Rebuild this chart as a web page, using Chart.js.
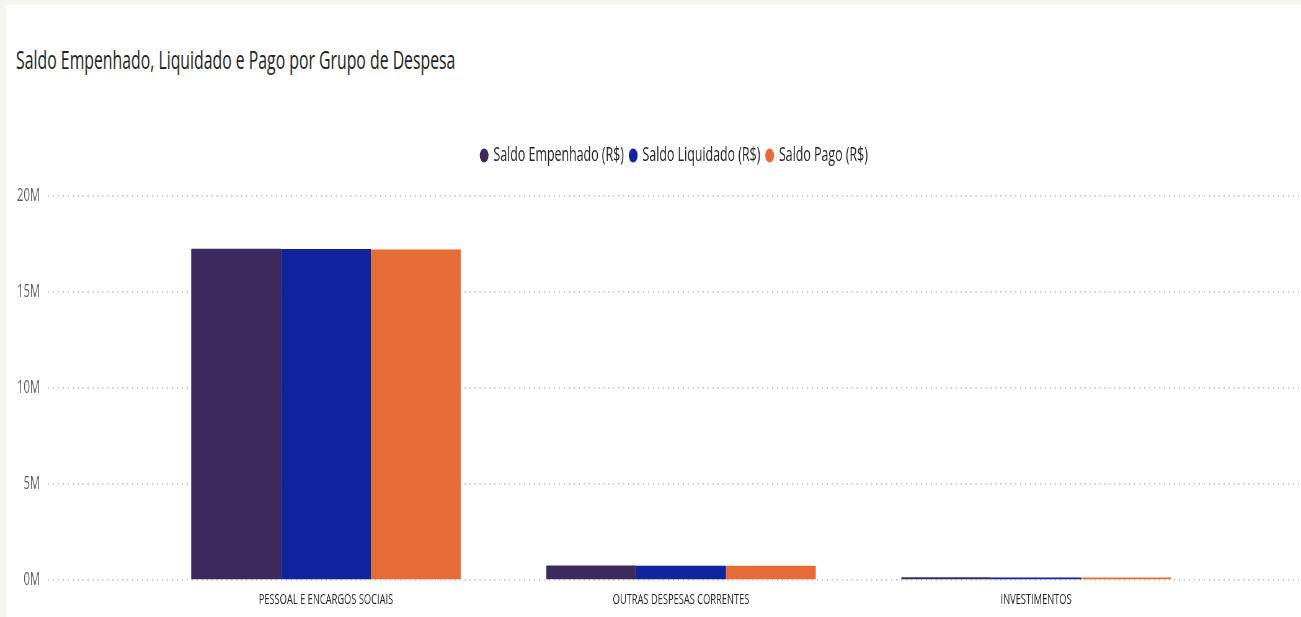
<!DOCTYPE html>
<html>
<head>
<meta charset="utf-8">
<script src="https://cdn.jsdelivr.net/npm/chart.js@4.4.1/dist/chart.umd.min.js"></script>
<style>
  html, body { margin: 0; padding: 0; background: #f3f5ee; overflow: hidden; }
  /* the reference is a horizontally squeezed screenshot, so draw wide and squeeze */
  #stage { position: absolute; left: 0; top: 0; width: 2098px; height: 617px; transform: scaleX(0.6201); transform-origin: 0 0; }
  #panel { position: absolute; left: 10px; top: 5px; right: 0; bottom: 0; background: #ffffff; }
  #title { position: absolute; left: 26px; top: 41.7px; font-family: 'Open Sans', sans-serif; font-size: 25.5px; color: #252423; white-space: nowrap; }
  #myChart { position: absolute; left: 0; top: 0; }
</style>
</head>
<body>
<div id="stage">
  <div id="panel"></div>
  <div id="title">Saldo Empenhado, Liquidado e Pago por Grupo de Despesa</div>
  <canvas id="myChart" width="2098" height="617" style="width:2098px;height:617px"></canvas>
</div>
<script>
const categories = ['PESSOAL E ENCARGOS SOCIAIS', 'OUTRAS DESPESAS CORRENTES', 'INVESTIMENTOS'];
const seriesNames = ['Saldo Empenhado (R$)', 'Saldo Liquidado (R$)', 'Saldo Pago (R$)'];
const empenhado = [17250000, 750000, 140000];
const liquidado = [17240000, 745000, 130000];
const pago = [17220000, 740000, 125000];
const seriesColors = ['#3c2a5e', '#12239e', '#e66c37'];
const yMax = 20000000;
const yStep = 5000000;

let ctx = document.getElementById('myChart').getContext('2d');
Chart.defaults.font.family = "'Open Sans', sans-serif";

const toPoints = (arr) => arr.map((v, i) => ({ x: i, y: v }));

let myChart = new Chart(ctx, {
    type: 'bar',
    data: {
        datasets: [
            { label: seriesNames[0], data: toPoints(empenhado), backgroundColor: seriesColors[0] },
            { label: seriesNames[1], data: toPoints(liquidado), backgroundColor: seriesColors[1] },
            { label: seriesNames[2], data: toPoints(pago), backgroundColor: seriesColors[2] }
        ]
    },
    options: {
        responsive: false,
        animation: false,
        devicePixelRatio: 1,
        categoryPercentage: 0.759,
        barPercentage: 1.0,
        layout: { padding: { top: 135.5, left: 14.7, right: 0, bottom: -3 } },
        plugins: {
            tooltip: { enabled: false },
            legend: {
                position: 'top',
                align: 'center',
                fullSize: false,
                labels: {
                    usePointStyle: true,
                    pointStyle: 'circle',
                    boxWidth: 10,
                    boxHeight: 10,
                    padding: 10,
                    color: '#252423',
                    font: { size: 20 }
                }
            },
            // spacer between legend and plot
            subtitle: {
                display: true,
                text: ' ',
                position: 'top',
                fullSize: false,
                weight: 500,
                font: { size: 1 },
                padding: { top: 19.3, bottom: 0 }
            }
        },
        scales: {
            x: {
                type: 'linear',
                offset: false,
                min: -0.783,
                max: 2.746,
                grid: { display: false, drawTicks: false },
                border: { display: false },
                ticks: {
                    stepSize: 1,
                    includeBounds: false,
                    autoSkip: false,
                    maxRotation: 0,
                    padding: 11,
                    color: '#252423',
                    font: { size: 15 },
                    callback: (v) => categories[v] !== undefined ? categories[v] : ''
                }
            },
            y: {
                min: 0,
                max: yMax,
                grid: { color: '#bdbdbd', lineWidth: 1.5, drawTicks: false },
                border: { display: false, dash: [2, 6] },
                ticks: {
                    stepSize: yStep,
                    padding: 12.9,
                    color: '#605e5c',
                    font: { size: 18 },
                    callback: (v) => (v / 1000000) + 'M'
                }
            }
        }
    }
});
</script>
</body>
</html>
